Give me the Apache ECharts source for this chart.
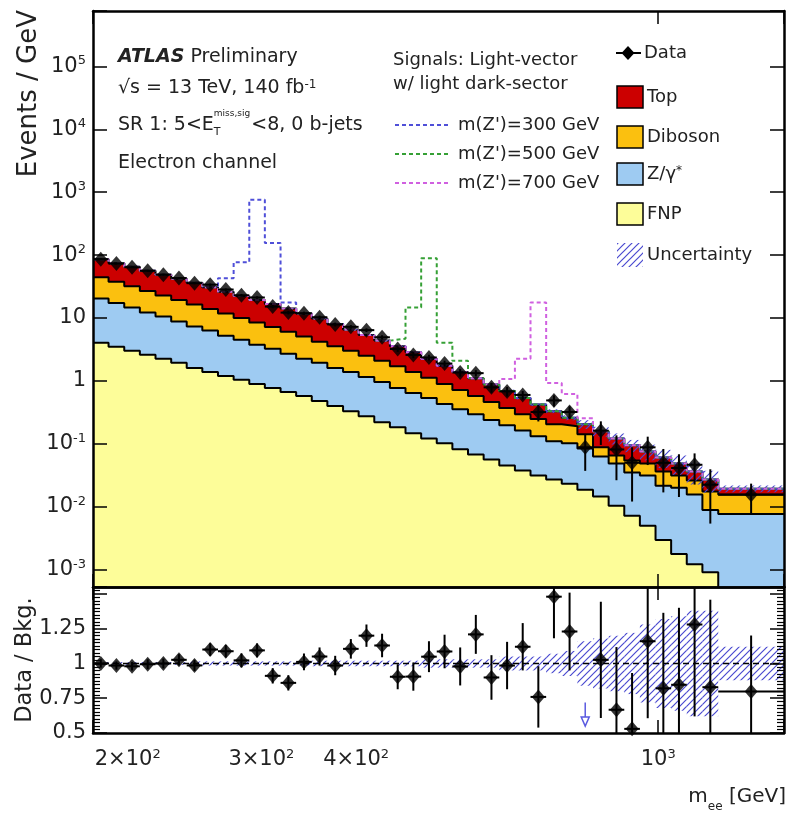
<!DOCTYPE html>
<html>
<head>
<meta charset="utf-8">
<script src="https://cdn.jsdelivr.net/npm/echarts@6/dist/echarts.min.js"></script>
<style>
html,body{margin:0;padding:0;background:#fff}
#chart{width:791px;height:813px}
</style>
</head>
<body>
<div id="chart"></div>
<script>
// m_ee bin edges [GeV]: 40 log bins 180-1200 and one wide bin
var edges = [180, 188.7, 197.9, 207.5, 217.6, 228.2, 239.2, 250.8, 263.0, 275.8,
  289.2, 303.2, 318.0, 333.4, 349.6, 366.5, 384.4, 403.0, 422.6, 443.1,
  464.6, 487.2, 510.8, 535.6, 561.6, 588.9, 617.5, 647.5, 678.9, 711.9,
  746.4, 782.7, 820.7, 860.5, 902.3, 946.1, 992.1, 1040.2, 1090.7, 1143.7,
  1200, 1465];

// backgrounds, events / GeV
var topBkg = [41.8, 36.8, 33.6, 29.5, 25.9, 22.7, 19.9, 16.9, 14.3, 12.5,
  10.9, 9.5, 8.1, 6.7, 5.6, 4.46, 3.53, 2.84, 2.28, 1.85,
  1.47, 1.13, 0.845, 0.672, 0.525, 0.418, 0.322, 0.239, 0.174, 0.126,
  0.070, 0.063, 0.070, 0.0565, 0.0401, 0.0271, 0.0245, 0.0175, 0.0102, 0.0096,
  0.0038];
var dibBkg = [24.0, 20.4, 17.2, 14.8, 12.3, 10.6, 9.1, 7.6, 6.55, 5.47,
  4.7, 3.93, 3.38, 2.81, 2.27, 1.95, 1.63, 1.35, 1.13, 0.937,
  0.747, 0.585, 0.466, 0.362, 0.279, 0.223, 0.172, 0.132, 0.115, 0.095,
  0.089, 0.0573, 0.0248, 0.0167, 0.0195, 0.0175, 0.0146, 0.0112, 0.0105, 0.0085,
  0.0079];
var zBkg = [16.4, 13.8, 11.7, 9.6, 8.35, 6.85, 5.7, 4.92, 4.05, 3.49,
  2.88, 2.48, 2.03, 1.68, 1.46, 1.21, 1.06, 0.885, 0.743, 0.589,
  0.496, 0.413, 0.327, 0.274, 0.228, 0.182, 0.153, 0.126, 0.101, 0.083,
  0.0787, 0.066, 0.0486, 0.0384, 0.0278, 0.0263, 0.0187, 0.0183, 0.0144, 0.0080,
  0.0077];
var fnpBkg = [4.06, 3.50, 3.02, 2.61, 2.25, 1.94, 1.61, 1.39, 1.20, 1.04,
  0.895, 0.773, 0.667, 0.575, 0.479, 0.398, 0.331, 0.275, 0.221, 0.184,
  0.147, 0.122, 0.102, 0.0817, 0.0679, 0.0565, 0.0453, 0.0377, 0.0313, 0.0270,
  0.0233, 0.0187, 0.0145, 0.0104, 0.00718, 0.00497, 0.00296, 0.00177, 0.00122, 0.00091,
  0];
// relative background uncertainty
var bkgUnc = [0.01, 0.01, 0.01, 0.01, 0.01, 0.01, 0.015, 0.015, 0.015, 0.015,
  0.015, 0.015, 0.015, 0.015, 0.02, 0.02, 0.02, 0.02, 0.02, 0.02,
  0.02, 0.03, 0.03, 0.03, 0.03, 0.03, 0.05, 0.05, 0.05, 0.07,
  0.09, 0.16, 0.18, 0.2, 0.22, 0.28, 0.32, 0.34, 0.38, 0.38,
  0.12];

// data, events / GeV
var dataVal = [86.3, 73.4, 64.2, 56.2, 48.8, 43.2, 35.8, 33.9, 28.4, 23.0,
  21.2, 15.2, 12.2, 11.9, 10.3, 7.90, 7.24, 6.42, 4.94, 3.22,
  2.59, 2.36, 1.89, 1.36, 1.33, 0.791, 0.682, 0.599, 0.320, 0.490,
  0.321, 0.0882, 0.162, 0.0814, 0.0501, 0.0880, 0.0499, 0.0413, 0.0465, 0.0224,
  0.0155];
var dataErr = [2.6, 2.2, 2.0, 2.0, 1.7, 1.7, 1.45, 1.39, 1.17, 1.13,
  0.97, 0.92, 0.78, 0.71, 0.64, 0.56, 0.46, 0.43, 0.37, 0.32,
  0.29, 0.25, 0.21, 0.19, 0.154, 0.141, 0.118, 0.091, 0.093, 0.099,
  0.073, 0.051, 0.066, 0.055, 0.038, 0.042, 0.033, 0.027, 0.024, 0.017,
  0.0078];

// signals on top of the background
var sig300 = [0, 0, 0, 0, 0, 0, 0, 0, 16.8, 54.8,
  740, 139, 3.5, 0, 0, 0, 0, 0, 0, 0,
  0, 0, 0, 0, 0, 0, 0, 0, 0, 0,
  0, 0, 0, 0, 0, 0, 0, 0, 0, 0, 0];
var sig500 = [0, 0, 0, 0, 0, 0, 0, 0, 0, 0,
  0, 0, 0, 0, 0, 0, 0, 0, 0, 1.14,
  11.9, 87.3, 2.32, 0.70, 0, 0, 0, 0, 0, 0,
  0, 0, 0, 0, 0, 0, 0, 0, 0, 0, 0];
var sig700 = [0, 0, 0, 0, 0, 0, 0, 0, 0, 0,
  0, 0, 0, 0, 0, 0, 0, 0, 0, 0,
  0, 0, 0, 0, 0, 0, 0.38, 1.71, 17.3, 0.60,
  0.36, 0.05, 0, 0, 0, 0, 0, 0, 0, 0, 0];

// tick labels
var xLabels = [200, 300, 400, 1000];
var yDecades = [1e-3, 1e-2, 1e-1, 1, 10, 100, 1e3, 1e4, 1e5];
var ratioLabels = [0.5, 0.75, 1, 1.25];

var X_MIN = 180, X_MAX = 1465;
var Y_MIN = 5.3e-4, Y_MAX = 7.6e5;
var R_MIN = 0.5, R_MAX = 1.55;
var FLOOR = 1e-7;
var FONT = 'DejaVu Sans';
var GRIDS = [
  { left: 93, top: 11, width: 691, height: 576 },
  { left: 93, top: 587, width: 691, height: 146 }
];

// stack the backgrounds
var nb = topBkg.length;
var fnpCum = [], zCum = [], dibCum = [], totBkg = [];
for (var k = 0; k < nb; k++) {
  fnpCum.push(fnpBkg[k]);
  zCum.push(fnpBkg[k] + zBkg[k]);
  dibCum.push(zCum[k] + dibBkg[k]);
  totBkg.push(dibCum[k] + topBkg[k]);
}

function stepPts(vals) {
  var pts = [];
  for (var k = 0; k < vals.length; k++) pts.push([edges[k], Math.max(vals[k], FLOOR)]);
  pts.push([edges[vals.length], Math.max(vals[vals.length - 1], FLOOR)]);
  return pts;
}
function withSig(sig) {
  return totBkg.map(function (v, k) { return v + sig[k]; });
}

// hatch pattern for the uncertainty
var hatch = document.createElement('canvas');
hatch.width = 7; hatch.height = 7;
var hc = hatch.getContext('2d');
hc.strokeStyle = '#4a4ad0'; hc.lineWidth = 1.2;
hc.beginPath();
hc.moveTo(-1, 8); hc.lineTo(8, -1);
hc.moveTo(-1, 1); hc.lineTo(1, -1);
hc.moveTo(6, 8); hc.lineTo(8, 6);
hc.stroke();

// error bar / band items
var mainErr = [], mainPts = [], mainUnc = [];
var ratErr = [], ratPts = [], ratUnc = [], ratLow = [];
for (var k = 0; k < nb; k++) {
  var x0 = edges[k], x1 = edges[k + 1], xc = Math.sqrt(x0 * x1);
  var d = dataVal[k], e = dataErr[k], b = totBkg[k], u = bkgUnc[k];
  mainPts.push([xc, d]);
  mainErr.push([xc, d, Math.max(d - e, FLOOR), d + e, x0, x1]);
  mainUnc.push([xc, b, b * (1 - u), b * (1 + u), x0, x1]);
  ratUnc.push([xc, 1, 1 - u, 1 + u, x0, x1]);
  var r = d / b, re = e / b;
  if (r >= R_MIN) {
    ratPts.push([xc, r]);
    ratErr.push([xc, r, r - re, r + re, x0, x1]);
  } else {
    ratLow.push([xc, 0.72, 0.55]);
  }
}

function clampY(cs, y) { return Math.min(Math.max(y, cs.y), cs.y + cs.height); }

function errRender(params, api) {
  var cs = params.coordSys;
  var c = api.coord([api.value(0), api.value(1)]);
  var lo = api.coord([api.value(0), api.value(2)]);
  var hi = api.coord([api.value(0), api.value(3)]);
  var l = api.coord([api.value(4), api.value(1)]);
  var r = api.coord([api.value(5), api.value(1)]);
  var y1 = clampY(cs, hi[1]), y2 = clampY(cs, lo[1]);
  var ch = [];
  if (y2 > y1) ch.push({ type: 'line', shape: { x1: c[0], y1: y1, x2: c[0], y2: y2 }, style: { stroke: '#000', lineWidth: 2 } });
  if (c[1] >= cs.y && c[1] <= cs.y + cs.height)
    ch.push({ type: 'line', shape: { x1: l[0], y1: c[1], x2: r[0], y2: c[1] }, style: { stroke: '#000', lineWidth: 2 } });
  return { type: 'group', children: ch };
}
function uncRender(params, api) {
  var cs = params.coordSys;
  var a = api.coord([api.value(4), api.value(3)]);
  var b = api.coord([api.value(5), api.value(2)]);
  var y1 = clampY(cs, a[1]), y2 = clampY(cs, b[1]);
  return { type: 'rect', shape: { x: a[0], y: y1, width: b[0] - a[0], height: Math.max(y2 - y1, 0) },
    style: { fill: { image: hatch, repeat: 'repeat' }, stroke: null } };
}
function arrowRender(params, api) {
  var t = api.coord([api.value(0), api.value(1)]);
  var b = api.coord([api.value(0), api.value(2)]);
  var col = '#5a5ae0';
  return { type: 'group', children: [
    { type: 'line', shape: { x1: t[0], y1: t[1], x2: t[0], y2: b[1] - 8 }, style: { stroke: col, lineWidth: 1.5 } },
    { type: 'polygon', shape: { points: [[t[0] - 4, b[1] - 9], [t[0] + 4, b[1] - 9], [t[0], b[1]]] }, style: { fill: '#fff', stroke: col, lineWidth: 1.5 } }
  ] };
}

function supFmt(v) {
  var n = Math.round(Math.log10(v));
  if (n === 0) return '1';
  if (n === 1) return '10';
  return '10{sup|' + n + '}';
}
function xFmt(v) {
  if (v === 1000) return '10{sup|3}';
  return Math.round(v / 100) + '×10{sup|2}';
}
var supRich = { sup: { fontSize: 13, fontFamily: FONT, color: '#222', lineHeight: 13, verticalAlign: 'top' } };

// frame + label axes
function xAx(grid, pos, labels) {
  var ax = {
    type: 'log', logBase: 10, gridIndex: grid, position: pos, min: X_MIN, max: X_MAX, z: 20,
    axisLine: { show: true, onZero: false, lineStyle: { color: '#000', width: 2.5 } },
    axisTick: { show: false },
    axisLabel: { show: false },
    splitLine: { show: false }
  };
  if (labels) ax.axisLabel = { show: true, customValues: xLabels, formatter: xFmt, rich: supRich,
    fontSize: 21, fontFamily: FONT, color: '#222', margin: 15, lineHeight: 24 };
  return ax;
}
function yAx(grid, pos, type, mn, mx, labels, fmt) {
  var ax = {
    type: type, gridIndex: grid, position: pos, min: mn, max: mx, z: 20,
    axisLine: { show: true, onZero: false, lineStyle: { color: '#000', width: 2.5 } },
    axisTick: { show: false },
    axisLabel: { show: false },
    splitLine: { show: false }
  };
  if (type === 'log') ax.logBase = 10;
  if (labels) ax.axisLabel = { show: true, customValues: labels, formatter: fmt, rich: supRich,
    fontSize: 21, fontFamily: FONT, color: '#222', margin: 7, lineHeight: 24 };
  return ax;
}
// tick-only axes (library's own tick positions, drawn inward)
function xTickAx(grid, pos) {
  return {
    type: 'log', logBase: 10, gridIndex: grid, position: pos, min: X_MIN, max: X_MAX, z: 21,
    axisLine: { show: false, onZero: false },
    axisTick: { show: true, inside: true, length: 13, lineStyle: { color: '#000', width: 1.5 } },
    axisLabel: { show: false },
    splitLine: { show: false }
  };
}
function yTickAx(grid, pos, type, mn, mx) {
  var ax = {
    type: type, gridIndex: grid, position: pos, min: mn, max: mx, z: 21,
    axisLine: { show: false, onZero: false },
    axisTick: { show: true, inside: true, length: 14, lineStyle: { color: '#000', width: 1.5 } },
    axisLabel: { show: false },
    splitLine: { show: false }
  };
  if (type === 'log') {
    ax.logBase = 10;
  } else {
    ax.interval = 0.25;
    ax.minorTick = { show: true, splitNumber: 10, length: 7, lineStyle: { color: '#000', width: 1.2 } };
    ax.minorSplitLine = { show: false };
  }
  return ax;
}

// legend and text
var mctx = document.createElement('canvas').getContext('2d');
function tw(s, size) { mctx.font = size + 'px "' + FONT + '"'; return mctx.measureText(s).width; }
function T(x, y, s, size, extra) {
  var st = { text: s, fontSize: size, fontFamily: FONT, fill: '#222', align: 'left', verticalAlign: 'middle' };
  for (var key in (extra || {})) st[key] = extra[key];
  return { type: 'text', x: x, y: y, z: 40, style: st };
}
var supTxt = { s: { fontSize: 12, fontFamily: FONT, fill: '#222', lineHeight: 12, verticalAlign: 'top' } };
var g = [];
g.push(T(118, 57, '{b|ATLAS} Preliminary', 19, { rich: { b: { fontSize: 19, fontFamily: FONT, fontWeight: 'bold', fontStyle: 'italic', fill: '#222' } } }));
g.push(T(118, 88, '√s = 13 TeV, 140 fb{s|-1}', 19, { rich: supTxt }));
var sr1 = 'SR 1: 5<E', wsr = tw(sr1, 19);
var wsup = Math.max(tw('T', 11), tw('miss,sig', 9));
g.push(T(118, 125, sr1, 19));
g.push(T(118 + wsr, 132, 'T', 11));
g.push(T(118 + wsr, 114, 'miss,sig', 9));
g.push(T(118 + wsr + wsup + 1, 125, '<8, 0 b-jets', 19));
g.push(T(118, 163, 'Electron channel', 19));

g.push(T(393, 60, 'Signals: Light-vector', 18));
g.push(T(393, 84, 'w/ light dark-sector', 18));
var sigCols = ['#4f4fd8', '#35a035', '#d060e0'];
var sigNames = ["m(Z')=300 GeV", "m(Z')=500 GeV", "m(Z')=700 GeV"];
var sigY = [125, 154, 183];
for (var s = 0; s < 3; s++) {
  g.push({ type: 'line', z: 40, shape: { x1: 395, y1: sigY[s], x2: 448, y2: sigY[s] }, style: { stroke: sigCols[s], lineWidth: 2, lineDash: [4, 3] } });
  g.push(T(458, sigY[s], sigNames[s], 18));
}

g.push({ type: 'line', z: 40, shape: { x1: 616, y1: 53, x2: 641, y2: 53 }, style: { stroke: '#000', lineWidth: 2 } });
g.push({ type: 'polygon', z: 41, shape: { points: [[628, 46], [634.5, 53], [628, 60], [621.5, 53]] }, style: { fill: '#000' } });
g.push(T(644, 53, 'Data', 18));
var boxes = [['Top', '#cc0000', 97], ['Diboson', '#fbc00f', 137], ['Z/γ{s|*}', '#9ecbf2', 174], ['FNP', '#fdfd99', 214]];
boxes.forEach(function (bx) {
  g.push({ type: 'rect', z: 40, shape: { x: 617, y: bx[2] - 11, width: 26, height: 22 }, style: { fill: bx[1], stroke: '#000', lineWidth: 1.5 } });
  g.push(T(647, bx[2], bx[0], 18, { rich: supTxt }));
});
g.push({ type: 'rect', z: 40, shape: { x: 617, y: 243, width: 26, height: 24 }, style: { fill: { image: hatch, repeat: 'repeat' } } });
g.push(T(647, 255, 'Uncertainty', 18));

g.push({ type: 'text', x: 29, y: 10, rotation: Math.PI / 2, z: 40,
  style: { text: 'Events / GeV', fontSize: 26, fontFamily: FONT, fill: '#222', align: 'right', verticalAlign: 'middle' } });
g.push({ type: 'text', x: 25, y: 660, rotation: Math.PI / 2, z: 40,
  style: { text: 'Data / Bkg.', fontSize: 22.5, fontFamily: FONT, fill: '#222', align: 'center', verticalAlign: 'middle' } });
g.push(T(786, 797, 'm{sub|ee} [GeV]', 20, { align: 'right',
  rich: { sub: { fontSize: 12, fontFamily: FONT, fill: '#222', lineHeight: 12, verticalAlign: 'bottom', padding: [0, 0, -6, 0] } } }));

function histLine(name, vals, col, z) {
  return { type: 'line', name: name, data: stepPts(vals), step: 'end', xAxisIndex: 0, yAxisIndex: 0,
    symbol: 'none', silent: true, z: z,
    lineStyle: { color: '#000', width: 2 },
    areaStyle: { color: col, opacity: 1, origin: 'start' } };
}
function sigLine(name, vals, col) {
  return { type: 'line', name: name, data: stepPts(vals), step: 'end', xAxisIndex: 0, yAxisIndex: 0,
    symbol: 'none', silent: true, z: 6,
    lineStyle: { color: col, width: 2, type: [4, 3] } };
}

var myChart = echarts.init(document.getElementById('chart'), null, { renderer: 'canvas' });
var option = {
  animation: false,
  backgroundColor: '#fff',
  grid: GRIDS.map(function (gr) {
    return { left: gr.left, top: gr.top, width: gr.width, height: gr.height };
  }),
  xAxis: [
    xAx(0, 'bottom', false),
    xAx(0, 'top', false),
    xAx(1, 'bottom', true),
    xAx(1, 'top', false),
    xTickAx(0, 'bottom'),
    xTickAx(0, 'top'),
    xTickAx(1, 'bottom'),
    xTickAx(1, 'top')
  ],
  yAxis: [
    yAx(0, 'left', 'log', Y_MIN, Y_MAX, yDecades, supFmt),
    yAx(0, 'right', 'log', Y_MIN, Y_MAX, null),
    yAx(1, 'left', 'value', R_MIN, R_MAX, ratioLabels, function (v) { return String(v); }),
    yAx(1, 'right', 'value', R_MIN, R_MAX, null),
    yTickAx(0, 'left', 'log', Y_MIN, Y_MAX),
    yTickAx(0, 'right', 'log', Y_MIN, Y_MAX),
    yTickAx(1, 'left', 'value', R_MIN, R_MAX),
    yTickAx(1, 'right', 'value', R_MIN, R_MAX)
  ],
  graphic: { elements: g },
  series: [
    histLine('Top', totBkg, '#cc0000', 1),
    histLine('Diboson', dibCum, '#fbc00f', 2),
    histLine('Z/γ*', zCum, '#9ecbf2', 3),
    histLine('FNP', fnpCum, '#fdfd99', 4),
    { type: 'custom', name: 'Uncertainty', xAxisIndex: 0, yAxisIndex: 0, z: 5, silent: true,
      renderItem: uncRender, data: mainUnc },
    sigLine('m300', withSig(sig300), sigCols[0]),
    sigLine('m500', withSig(sig500), sigCols[1]),
    sigLine('m700', withSig(sig700), sigCols[2]),
    { type: 'custom', name: 'DataErr', xAxisIndex: 0, yAxisIndex: 0, z: 7, silent: true,
      renderItem: errRender, data: mainErr },
    { type: 'scatter', name: 'Data', xAxisIndex: 0, yAxisIndex: 0, z: 8, silent: true,
      symbol: 'diamond', symbolSize: [13, 15], itemStyle: { color: '#000' }, data: mainPts },
    { type: 'custom', name: 'RatioUnc', xAxisIndex: 2, yAxisIndex: 2, z: 5, silent: true,
      renderItem: uncRender, data: ratUnc },
    { type: 'line', name: 'One', xAxisIndex: 2, yAxisIndex: 2, z: 6, silent: true, symbol: 'none',
      data: [[X_MIN, 1], [X_MAX, 1]], lineStyle: { color: '#000', width: 1.5, type: [6, 4] } },
    { type: 'custom', name: 'RatioErr', xAxisIndex: 2, yAxisIndex: 2, z: 7, silent: true,
      renderItem: errRender, data: ratErr },
    { type: 'scatter', name: 'Ratio', xAxisIndex: 2, yAxisIndex: 2, z: 8, silent: true,
      symbol: 'diamond', symbolSize: [13, 15], itemStyle: { color: '#000' }, data: ratPts },
    { type: 'custom', name: 'RatioLow', xAxisIndex: 2, yAxisIndex: 2, z: 8, silent: true,
      renderItem: arrowRender, data: ratLow }
  ]
};
myChart.setOption(option);
window.addEventListener('resize', function () { myChart.resize(); });
</script>
</body>
</html>
